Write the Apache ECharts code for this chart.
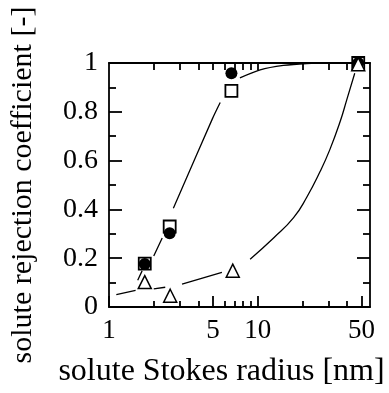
<!DOCTYPE html>
<html>
<head>
<meta charset="utf-8">
<script src="https://cdn.jsdelivr.net/npm/echarts@6/dist/echarts.min.js"></script>
<style>
  html, body { margin: 0; padding: 0; background: #fff; }
  #chart { width: 389px; height: 393px; }
</style>
</head>
<body>
<div id="chart"></div>
<script>
// measured points [radius nm, rejection]
var squares = [[1.74, 0.178], [2.56, 0.33], [6.66, 0.886], [47.5, 1.0]];
var circles = [[1.74, 0.176], [2.56, 0.302], [6.66, 0.958], [47.5, 1.0]];
var triangles = [[1.74, 0.102], [2.58, 0.046], [6.8, 0.149], [47.5, 0.995]];

// fitted curves, null = break in the line
var curveSteep = [[1.56, 0.11], [1.67, 0.148], null,
  [2.0, 0.209], [2.28, 0.283], null,
  [2.71, 0.405], [4.95, 0.77], [5.6, 0.838], null,
  [7.6, 0.939], [10.4, 0.972], [14.9, 0.99], [21.4, 0.998], [30, 1.0], [44, 1.0]];
var curveSlow = [[1.12, 0.051], [1.51, 0.068], null,
  [2.0, 0.074], [2.39, 0.081], null,
  [3.1, 0.094], [5.75, 0.142], null,
  [8.9, 0.196], [12.8, 0.283], [17.4, 0.365], [21.4, 0.45], [26.3, 0.555],
  [30.6, 0.645], [35.9, 0.76], [39.8, 0.85], [45, 0.958]];

var xLabelTicks = [1, 5, 10, 50];
var xMinorTicks = [2, 3, 4, 6, 7, 8, 9, 20, 30, 40];
var xAllTicks = [2, 3, 4, 5, 6, 7, 8, 9, 10, 20, 30, 40, 50];
var yLabelTicks = [0, 0.2, 0.4, 0.6, 0.8, 1];

var font = 'Liberation Serif';
var lineStyle = { color: '#000', width: 1.8 };

var chart = echarts.init(document.getElementById('chart'));

function xAx(opts) {
  return Object.assign({
    type: 'log', min: 1, max: 57, logBase: 10,
    splitLine: { show: false },
    axisLine: { show: false },
    axisLabel: { show: false },
    axisTick: { show: false }
  }, opts);
}

chart.setOption({
  animation: false,
  grid: { left: 108, right: 19, top: 63, bottom: 83 },
  xAxis: [
    xAx({
      position: 'bottom',
      axisLine: { show: true, onZero: false, lineStyle: lineStyle },
      axisTick: { show: true, inside: true, length: 11, customValues: xLabelTicks, lineStyle: lineStyle },
      axisLabel: { show: true, customValues: xLabelTicks, color: '#000', fontFamily: font, fontSize: 27, margin: 10 },
      name: 'solute Stokes radius [nm]',
      nameLocation: 'middle',
      nameGap: 49,
      nameTextStyle: { color: '#000', fontFamily: font, fontSize: 32, padding: [0, 36, 0, 0] }
    }),
    xAx({
      position: 'bottom',
      axisTick: { show: true, inside: true, length: 6, customValues: xMinorTicks, lineStyle: lineStyle }
    }),
    xAx({
      position: 'top',
      axisLine: { show: true, onZero: false, lineStyle: lineStyle },
      axisTick: { show: true, inside: true, length: 7, customValues: xAllTicks, lineStyle: lineStyle }
    })
  ],
  yAxis: [
    {
      type: 'value', min: 0, max: 1, interval: 0.2, position: 'left',
      splitLine: { show: false },
      axisLine: { show: true, onZero: false, lineStyle: lineStyle },
      axisTick: { inside: true, length: 13, lineStyle: lineStyle },
      minorTick: { show: true, splitNumber: 2, length: 7, lineStyle: lineStyle },
      axisLabel: { customValues: yLabelTicks, color: '#000', fontFamily: font, fontSize: 28, margin: 11 },
      name: 'solute rejection coefficient [-]',
      nameLocation: 'middle',
      nameGap: 71,
      nameTextStyle: { color: '#000', fontFamily: font, fontSize: 30 }
    },
    {
      type: 'value', min: 0, max: 1, interval: 0.2, position: 'right',
      splitLine: { show: false },
      axisLine: { show: true, onZero: false, lineStyle: lineStyle },
      axisTick: { inside: true, length: 13, lineStyle: lineStyle },
      minorTick: { show: true, splitNumber: 2, length: 7, lineStyle: lineStyle },
      axisLabel: { show: false }
    }
  ],
  series: [
    {
      type: 'line', data: curveSteep, smooth: 0.3, showSymbol: false, connectNulls: false,
      lineStyle: { color: '#000', width: 1.3 }
    },
    {
      type: 'line', data: curveSlow, smooth: 0.5, showSymbol: false, connectNulls: false,
      lineStyle: { color: '#000', width: 1.3 }
    },
    {
      type: 'scatter', data: squares, symbol: 'rect', symbolSize: 12,
      itemStyle: { color: '#fff', borderColor: '#000', borderWidth: 1.8, opacity: 1 }
    },
    {
      type: 'scatter', data: circles, symbol: 'circle', symbolSize: 12,
      itemStyle: { color: '#000', opacity: 1 }
    },
    {
      type: 'scatter', data: triangles, symbol: 'triangle', symbolSize: 13,
      itemStyle: { color: '#fff', borderColor: '#000', borderWidth: 1.5, opacity: 1 }
    }
  ]
});
</script>
</body>
</html>
